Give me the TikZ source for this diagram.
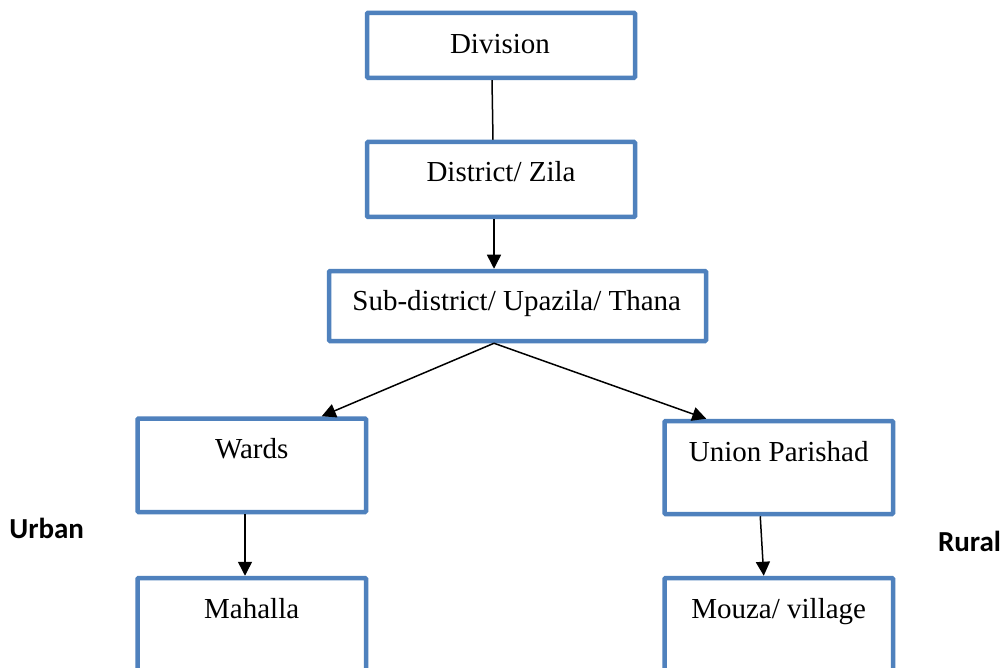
\documentclass[tikz,border=0pt]{standalone}
\usepackage{fontspec}
\setmainfont{Liberation Serif}
\newfontfamily\calfont{Carlito}
\usetikzlibrary{arrows.meta}
\definecolor{boxblue}{RGB}{79,129,189}
\tikzset{
  orgbox/.style={draw=boxblue, line width=4.5pt, rounded corners=1pt, rectangle, inner sep=0pt},
  txt/.style={font=\fontsize{29}{34}\selectfont, inner sep=0pt, anchor=base},
  side/.style={font=\calfont\bfseries\fontsize{29}{34}\selectfont, inner sep=0pt, anchor=base},
  conn/.style={line width=1.5pt, black},
  arr/.style={conn, -{Triangle[length=14pt,width=14pt]}}
}
\begin{document}
\begin{tikzpicture}[x=1pt,y=-1pt]
\useasboundingbox (0,0) rectangle (1003,668);
\clip (0,0) rectangle (1003,668);
\fill[white] (0,0) rectangle (1003,668);
% boxes
\node[orgbox, minimum width=268pt, minimum height=65pt] (div) at (501,45.3) {};
\node[orgbox, minimum width=268pt, minimum height=75pt] (dis) at (501,179.5) {};
\node[orgbox, minimum width=377pt, minimum height=70pt] (sub) at (517.5,306) {};
\node[orgbox, minimum width=228.5pt, minimum height=93.5pt] (wards) at (251.75,465.25) {};
\node[orgbox, minimum width=228.5pt, minimum height=93pt] (union) at (778.75,467.5) {};
\node[orgbox, minimum width=228.5pt, minimum height=93pt] (mah) at (251.75,624.5) {};
\node[orgbox, minimum width=228.5pt, minimum height=93pt] (mouza) at (778.75,624.5) {};
% texts
\node[txt] (tdiv) at (500,53.3) {Division};
\node[txt] (tdis) at (501,181.7) {District/ Zila};
\node[txt] (tsub) at (516.7,310) {Sub-district/ Upazila/ Thana};
\node[txt] (tward) at (251.7,458.3) {Wards};
\node[txt] (tunion) at (778.7,461.7) {Union Parishad};
\node[txt] (tmah) at (251.7,618.3) {Mahalla};
\node[txt] (tmouza) at (778.7,618.3) {Mouza/ village};
% side labels
\node[side] (urban) at (46.7,538.3) {Urban};
\node[side] (rural) at (969.5,551.7) {Rural};
% connectors
\draw[conn] ([xshift=-9pt]div.south) -- ([xshift=-8pt]dis.north);
\draw[arr] ([xshift=-7pt]dis.south) -- ([xshift=-23.5pt]sub.north);
\draw[arr] ([xshift=-23.5pt]sub.south) -- ([xshift=70pt]wards.north);
\draw[arr] ([xshift=-23.5pt]sub.south) -- ([xshift=-72.5pt]union.north);
\draw[arr] ([xshift=-6.75pt]wards.south) -- ([xshift=-6.75pt]mah.north);
\draw[arr] ([xshift=-18.5pt]union.south) -- ([xshift=-15pt]mouza.north);
\end{tikzpicture}
\end{document}
